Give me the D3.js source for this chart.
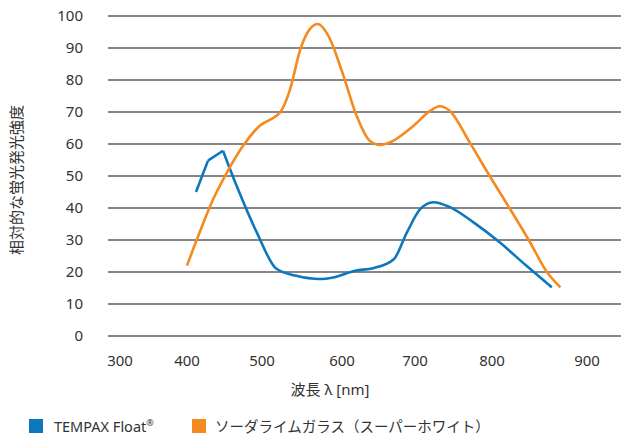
<!DOCTYPE html>
<html>
<head>
<meta charset="utf-8">
<script src="https://cdn.jsdelivr.net/npm/d3@7"></script>
<style>
  body { margin: 0; background: #fff; }
  text { font-family: "Noto Sans", "Noto Sans CJK JP", sans-serif; fill: #333; }
</style>
</head>
<body>
<div id="chart"></div>
<script>
/**
 * CONSTANTS AND GLOBALS
 * */
const width = 621,
  height = 436;

// x tick labels (the source places them unevenly, so the scale is piecewise)
const xTicks = [300, 400, 500, 600, 700, 800, 900];
const yTicks = [0, 10, 20, 30, 40, 50, 60, 70, 80, 90, 100];

// TEMPAX Float®
const tempaxNm = [412, 428, 448, 466, 493, 518, 543, 572, 589, 618, 643, 671, 689, 707, 724, 746, 776, 808, 836, 863];
const tempaxVal = [45, 54.8, 57.9, 47, 32.4, 21, 18.8, 17.8, 18.3, 20.4, 21.2, 24, 32.4, 39.7, 41.8, 40.2, 35.5, 29.3, 22, 15.2];

// ソーダライムガラス（スーパーホワイト）
const sodaNm = [400, 417, 435, 453, 475, 497, 518, 523, 535, 548, 560, 570, 583, 602, 620, 638, 652, 670, 698, 720, 732, 745, 771, 797, 819, 840, 858, 872];
const sodaVal = [22, 32.5, 42.8, 51, 59.5, 65.7, 68.8, 70, 77, 89.7, 96, 97.5, 93.8, 81.3, 68.8, 61, 59.7, 61, 65.7, 70.4, 71.8, 70.4, 60.5, 50, 39.7, 29.3, 19.9, 15.2];

const seriesNames = ["TEMPAX Float", "ソーダライムガラス（スーパーホワイト）"];
const colors = ["#0b78bd", "#f58a1f"];

const svg = d3.select("#chart")
  .append("svg")
  .attr("width", width)
  .attr("height", height);

const x = d3.scaleLinear()
  .domain(xTicks)
  .range([120, 187, 262, 342, 415, 492, 587]);

const y = d3.scaleLinear()
  .domain([0, 100])
  .range([336, 16]);

// grid lines
svg.append("g")
  .selectAll("line")
  .data(yTicks)
  .join("line")
    .attr("x1", 108)
    .attr("x2", 621)
    .attr("y1", d => y(d))
    .attr("y2", d => y(d))
    .attr("stroke", "#5e5e5e")
    .attr("stroke-width", 1.4);

// y labels
svg.append("g")
  .selectAll("text")
  .data(yTicks)
  .join("text")
    .attr("x", 83)
    .attr("y", d => y(d))
    .attr("dy", "0.35em")
    .attr("text-anchor", "end")
    .attr("font-size", 15)
    .text(d => d);

// x labels
svg.append("g")
  .selectAll("text")
  .data(xTicks)
  .join("text")
    .attr("x", d => x(d))
    .attr("y", 366)
    .attr("text-anchor", "middle")
    .attr("font-size", 15)
    .text(d => d);

svg.append("text")
  .attr("x", 330)
  .attr("y", 395)
  .attr("text-anchor", "middle")
  .attr("font-size", 15)
  .text("波長 λ [nm]");

svg.append("text")
  .attr("transform", "translate(22,180) rotate(-90)")
  .attr("text-anchor", "middle")
  .attr("font-size", 15)
  .text("相対的な蛍光発光強度");

// lines
const line = d3.line()
  .x(d => x(d[0]))
  .y(d => y(d[1]))
  .curve(d3.curveMonotoneX);

const tempax = d3.zip(tempaxNm, tempaxVal);
const soda = d3.zip(sodaNm, sodaVal);

// the TEMPAX curve has sharp corners at its first kink and peak
const segments = [
  { pts: tempax.slice(0, 2), c: 0 },
  { pts: tempax.slice(1, 3), c: 0 },
  { pts: tempax.slice(2), c: 0 },
  { pts: soda, c: 1 }
];

svg.append("g")
  .selectAll("path")
  .data(segments)
  .join("path")
    .attr("d", d => line(d.pts))
    .attr("fill", "none")
    .attr("stroke", d => colors[d.c])
    .attr("stroke-width", 2.6)
    .attr("stroke-linejoin", "round");

// legend
const legendX = [29, 192];
const lg = svg.append("g")
  .selectAll("g")
  .data(seriesNames)
  .join("g")
    .attr("transform", (d, i) => `translate(${legendX[i]},419)`);

lg.append("rect")
  .attr("width", 14)
  .attr("height", 14)
  .attr("fill", (d, i) => colors[i]);

const lt = lg.append("text")
  .attr("x", (d, i) => i === 0 ? 25 : 23)
  .attr("y", 13)
  .attr("font-size", 14.5)
  .text(d => d);

lt.filter((d, i) => i === 0)
  .append("tspan")
  .attr("font-size", 9)
  .attr("dy", -6)
  .text("®");
</script>
</body>
</html>
